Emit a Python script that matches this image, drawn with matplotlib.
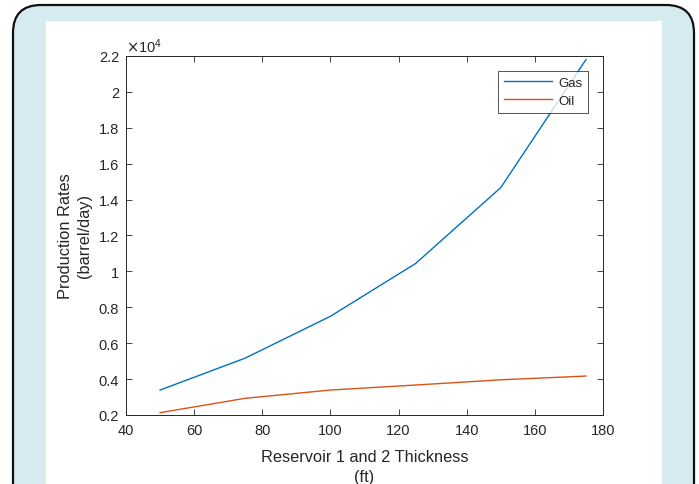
import matplotlib.pyplot as plt
from matplotlib.patches import FancyBboxPatch, Rectangle
from matplotlib.ticker import FuncFormatter

plt.rcParams['font.family'] = ['Liberation Sans', 'DejaVu Sans']

# data
thickness = [50, 75, 100, 125, 150, 175]
gas_rate = [3390, 5170, 7500, 10440, 14670, 21800]
oil_rate = [2130, 2930, 3390, 3670, 3960, 4170]

x_ticks = [40, 60, 80, 100, 120, 140, 160, 180]
y_ticks = [2000, 4000, 6000, 8000, 10000, 12000, 14000, 16000, 18000, 20000, 22000]

gray = '#262626'

fig = plt.figure(figsize=(6.99, 4.85), dpi=100)
fig.patch.set_facecolor('white')

# light blue card with rounded dark border, white panel inside
card = FancyBboxPatch((13 / 699, -0.1), (694 - 13) / 699, 1.1 - 6 / 485,
                      boxstyle='round,pad=0,rounding_size=0.04',
                      transform=fig.transFigure, facecolor='#d6ebf0',
                      edgecolor='#111111', linewidth=1.6, zorder=0,
                      mutation_aspect=699 / 485)
fig.patches.append(card)
panel = Rectangle((46 / 699, 0), (662 - 46) / 699, 1 - 22 / 485,
                  transform=fig.transFigure, facecolor='white',
                  edgecolor='none', zorder=1)
fig.patches.append(panel)

ax = fig.add_axes([126 / 699, 1 - 416 / 485, (603 - 126) / 699, (416 - 57) / 485])
ax.set_zorder(2)

ax.plot(thickness, gas_rate, color='#0072BD', linewidth=1.0, label='Gas')
ax.plot(thickness, oil_rate, color='#D95319', linewidth=1.0, label='Oil')

ax.set_xlim(40, 180)
ax.set_ylim(2000, 22000)
ax.set_xticks(x_ticks)
ax.set_yticks(y_ticks)
ax.yaxis.set_major_formatter(FuncFormatter(lambda v, p: f'{v / 1e4:g}'))

ax.tick_params(direction='in', top=True, right=True, length=4, width=0.6,
               colors=gray, labelsize=10.5)
ax.tick_params(axis='x', pad=6)
ax.tick_params(axis='y', pad=5)
for s in ax.spines.values():
    s.set_color(gray)
    s.set_linewidth(0.7)

ax.text(0.0, 1.004, r'$\times\mathregular{10^4}$', transform=ax.transAxes,
        fontsize=10.5, color=gray, ha='left', va='bottom')

ax.set_xlabel('Reservoir 1 and 2 Thickness\n(ft)', fontsize=11.8, color=gray,
              linespacing=1.38, labelpad=8.5)
ax.set_ylabel('Production Rates\n(barrel/day)', fontsize=11.8, color=gray,
              linespacing=1.38, labelpad=4.5)

leg = ax.legend(loc='upper right', fontsize=9.5, frameon=True, fancybox=False,
                handlelength=3.6, borderaxespad=1.1, borderpad=0.45,
                labelspacing=0.45, handletextpad=0.5)
leg.get_frame().set_edgecolor(gray)
leg.get_frame().set_linewidth(0.7)
for t in leg.get_texts():
    t.set_color(gray)

fig.savefig('out.png', dpi=100)
